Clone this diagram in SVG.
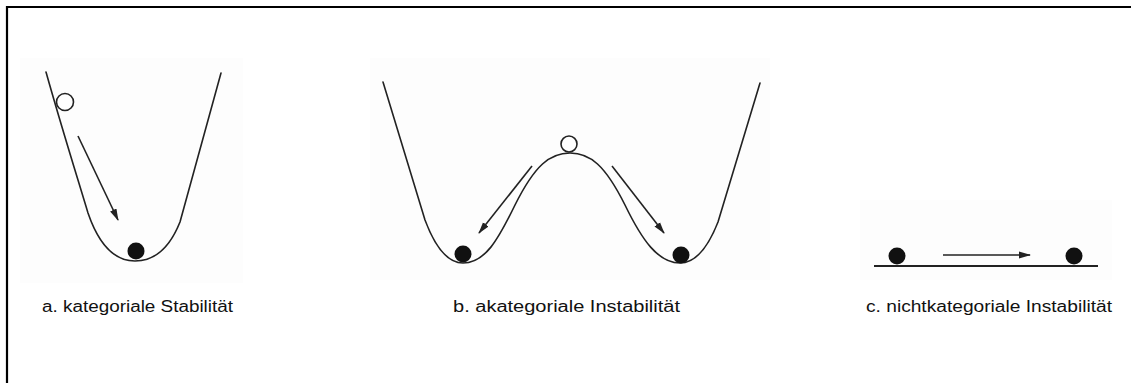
<svg xmlns="http://www.w3.org/2000/svg" width="1131" height="383" viewBox="0 0 1131 383">
<defs>
<style>
.curve{fill:none;stroke:#222;stroke-width:1.6;stroke-linecap:round;stroke-linejoin:round}
.arr{fill:none;stroke:#222;stroke-width:1.6}
.ball{fill:#111}
.open{fill:#fff;stroke:#222;stroke-width:1.6}
.lbl{font-family:"Liberation Sans",Arial,sans-serif;font-size:16px;fill:#111}
.bg{fill:#fdfdfd}
</style>
<marker id="ah" viewBox="0 0 12 10" refX="11" refY="5" markerWidth="12" markerHeight="10" markerUnits="userSpaceOnUse" orient="auto">
<path d="M0,1.5 L12,5 L0,8.5 Z" fill="#222"/>
</marker>
</defs>
<rect x="0" y="0" width="1131" height="383" fill="#fff"/>
<path d="M7,383 V7 H1131" fill="none" stroke="#000" stroke-width="2.2"/>
<g id="panel-a">
<rect class="bg" x="20" y="58" width="223" height="225"/>
<path class="curve" d="M46,72 C60,122 75,170 88,213 C100,248 116,261 135,261 C156,261 170,247 180,222 C194,170 208,120 221,73"/>
<circle class="open" cx="65" cy="102" r="8.5"/>
<circle class="ball" cx="136" cy="251" r="8.5"/>
</g>
<g id="panel-b">
<rect class="bg" x="370" y="58" width="400" height="222"/>
<path class="curve" d="M383,82 L425,220 C437,252 450,263 463,263 C485,263 498,240 515,205 C535,165 550,153 570,153 C590,153 605,165 625,205 C642,240 658,263 680,263 C695,263 707,250 718,222 L760,83"/>
<circle class="open" cx="569" cy="144" r="8"/>
<circle class="ball" cx="463" cy="254" r="8.5"/>
<circle class="ball" cx="681" cy="255" r="8.5"/>
</g>
<g id="panel-c">
<rect class="bg" x="860" y="200" width="252" height="80"/>
<line x1="874" y1="266" x2="1098" y2="266" stroke="#222" stroke-width="2"/>
<circle class="ball" cx="897" cy="256" r="8.5"/>
<circle class="ball" cx="1074" cy="256" r="8.5"/>
</g>
<g id="connectors">
<line class="arr" x1="78" y1="136" x2="118" y2="220" marker-end="url(#ah)"/>
<line class="arr" x1="532" y1="166" x2="479" y2="233" marker-end="url(#ah)"/>
<line class="arr" x1="612" y1="166" x2="664" y2="233" marker-end="url(#ah)"/>
<line class="arr" x1="943" y1="255" x2="1030" y2="255" marker-end="url(#ah)"/>
</g>
<g id="labels">
<text class="lbl" x="42" y="312" textLength="191" lengthAdjust="spacingAndGlyphs">a. kategoriale Stabilität</text>
<text class="lbl" x="453" y="312" textLength="227" lengthAdjust="spacingAndGlyphs">b. akategoriale Instabilität</text>
<text class="lbl" x="866" y="312" textLength="246" lengthAdjust="spacingAndGlyphs">c. nichtkategoriale Instabilität</text>
</g>
</svg>
